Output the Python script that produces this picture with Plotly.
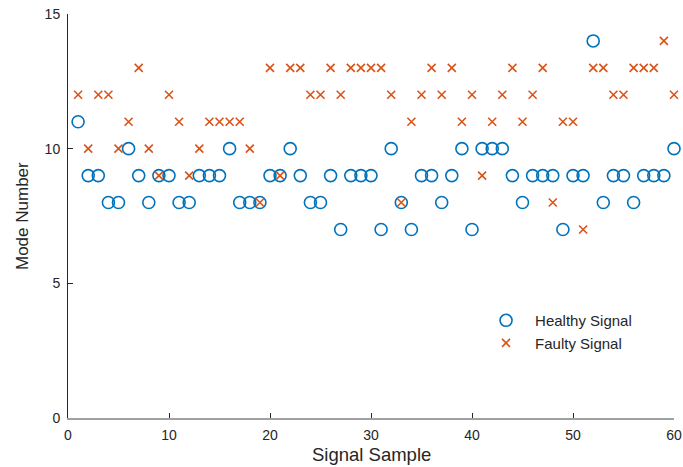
import plotly.graph_objects as go

samples = list(range(1, 61))
healthy = [11, 9, 9, 8, 8, 10, 9, 8, 9, 9,
           8, 8, 9, 9, 9, 10, 8, 8, 8, 9,
           9, 10, 9, 8, 8, 9, 7, 9, 9, 9,
           7, 10, 8, 7, 9, 9, 8, 9, 10, 7,
           10, 10, 10, 9, 8, 9, 9, 9, 7, 9,
           9, 14, 8, 9, 9, 8, 9, 9, 9, 10]
faulty = [12, 10, 12, 12, 10, 11, 13, 10, 9, 12,
          11, 9, 10, 11, 11, 11, 11, 10, 8, 13,
          9, 13, 13, 12, 12, 13, 12, 13, 13, 13,
          13, 12, 8, 11, 12, 13, 12, 13, 11, 12,
          9, 11, 12, 13, 11, 12, 13, 8, 11, 11,
          7, 13, 13, 12, 12, 13, 13, 13, 14, 12]
x_ticks = [0, 10, 20, 30, 40, 50, 60]
y_ticks = [0, 5, 10, 15]
x_title = "Signal Sample"
y_title = "Mode Number"

font_fam = "Liberation Sans, Arial, sans-serif"
txt = "#262626"
fig = go.Figure()
fig.add_trace(go.Scatter(
    x=samples, y=healthy, mode="markers", name="Healthy Signal", cliponaxis=False,
    marker=dict(symbol="circle-open", size=12, color="#0072BD",
                line=dict(width=1.6, color="#0072BD"))))
fig.add_trace(go.Scatter(
    x=samples, y=faulty, mode="markers", name="Faulty Signal", cliponaxis=False,
    marker=dict(symbol="x-thin-open", size=8, color="#D95319",
                line=dict(width=1.6, color="#D95319"))))

fig.update_layout(
    width=683, height=467,
    margin=dict(l=68, r=9, t=14, b=49),
    plot_bgcolor="white", paper_bgcolor="white",
    font=dict(family=font_fam, color=txt),
    showlegend=True,
    legend=dict(x=0.675, y=0.282, xanchor="left", yanchor="top", itemwidth=48,
                bgcolor="rgba(0,0,0,0)", font=dict(size=15, color=txt),
                tracegroupgap=0),
    xaxis=dict(range=[0, 60], tickvals=x_ticks, ticks="inside", ticklen=5,
               tickcolor=txt, tickwidth=1, automargin=False,
               ticklabeloverflow="allow", ticklabelstandoff=3,
               showline=True, linecolor="#A0A0A0", linewidth=2,
               showgrid=False, zeroline=False,
               tickfont=dict(size=14, color=txt)),
    yaxis=dict(range=[0, 15], tickvals=y_ticks, ticks="inside", ticklen=5,
               tickcolor=txt, tickwidth=1, automargin=False,
               ticklabeloverflow="allow", ticklabelstandoff=4,
               showline=True, linecolor=txt, linewidth=1,
               showgrid=False, zeroline=False,
               tickfont=dict(size=14, color=txt)),
    annotations=[
        dict(text=x_title, xref="paper", yref="paper", x=0.5, y=0,
             xanchor="center", yanchor="middle", yshift=-36, showarrow=False,
             font=dict(size=18.5, color=txt)),
        dict(text=y_title, xref="paper", yref="paper", x=0, y=0.5,
             xanchor="center", yanchor="middle", xshift=-46, textangle=-90,
             showarrow=False, font=dict(size=17, color=txt)),
    ],
)
# remove the default 8px page margin so the 683x467 figure fills the window exactly
fig.write_html("out.html", config={"displayModeBar": False},
               post_script="document.body.style.margin='0';document.body.style.overflow='hidden';")
